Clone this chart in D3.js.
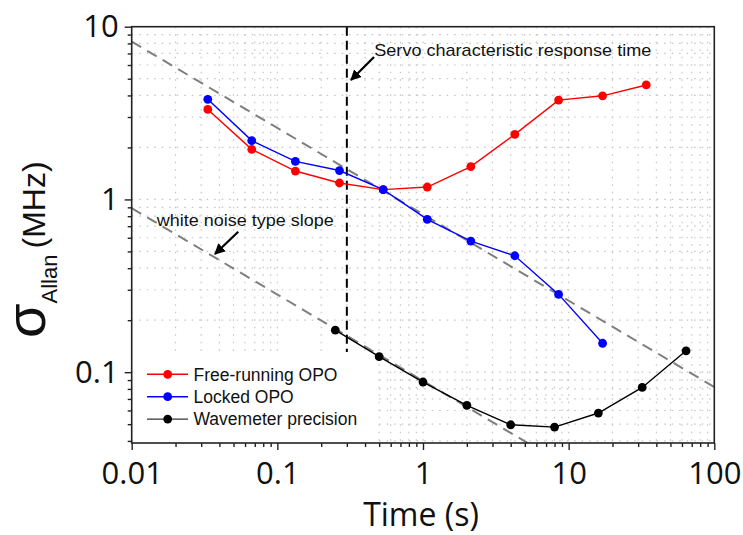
<!DOCTYPE html>
<html>
<head>
<meta charset="utf-8">
<script src="https://cdn.jsdelivr.net/npm/d3@7"></script>
<style>
  body { margin: 0; background: #fff; }
  svg { display: block; }
  .tick-label { font-family: "Open Sans", sans-serif; font-size: 31px; fill: #111; }
  .note { font-family: "Liberation Sans", Arial, sans-serif; font-size: 17px; fill: #111; }
  .legend-text { font-family: "Liberation Sans", Arial, sans-serif; font-size: 17.5px; fill: #111; }
</style>
</head>
<body>
<svg id="canvas" width="743" height="535"></svg>
<script>
// Data
const tauOPO      = [0.0333, 0.0667, 0.133, 0.267, 0.533, 1.07, 2.13, 4.27, 8.53, 17.1, 34.1];
const freeRunning = [3.32, 1.95, 1.46, 1.245, 1.14, 1.18, 1.55, 2.38, 3.76, 3.98, 4.60];
const tauLocked   = [0.0333, 0.0667, 0.133, 0.267, 0.533, 1.07, 2.13, 4.27, 8.53, 17.1];
const lockedOPO   = [3.80, 2.19, 1.66, 1.47, 1.14, 0.767, 0.574, 0.472, 0.282, 0.147];
const tauWave     = [0.25, 0.5, 1, 2, 4, 8, 16, 32, 64];
const wavemeter   = [0.175, 0.123, 0.0877, 0.0643, 0.0496, 0.0481, 0.058, 0.0816, 0.133];

// white-noise reference slopes (endpoints, tau / sigma)
const slopeUpper = [[0.01, 8.2], [100, 0.082]];
const slopeLower = [[0.01, 0.89], [100, 0.0089]];
const servoTime = 0.3;

const xTickLabels = ["0.01", "0.1", "1", "10", "100"];
const yTickLabels = ["0.1", "1", "10"];

const seriesNames = ["Free-running OPO", "Locked OPO", "Wavemeter precision"];
const seriesColors = ["#ff0000", "#0000ff", "#000000"];

const svg = d3.select("#canvas");
const plotLeft = 131.7, plotRight = 714.3, plotTop = 26.7, plotBottom = 443;

const x = d3.scaleLog().domain([0.01, 100]).range([plotLeft, plotRight]);
const y = d3.scaleLog().domain([0.0389, 10]).range([plotBottom, plotTop]);

const defs = svg.append("defs");
defs.append("clipPath").attr("id", "plotClip")
  .append("rect").attr("x", plotLeft).attr("y", plotTop)
  .attr("width", plotRight - plotLeft).attr("height", plotBottom - plotTop);

defs.append("marker")
  .attr("id", "arrowHead")
  .attr("viewBox", "0 0 10 10")
  .attr("refX", 9).attr("refY", 5)
  .attr("markerWidth", 5).attr("markerHeight", 5)
  .attr("orient", "auto")
  .append("path").attr("d", "M0,0 L10,5 L0,10 Z").attr("fill", "#000");

// --- grid (dotted, every tick) ---
const grid = svg.append("g").attr("clip-path", "url(#plotClip)");
grid.selectAll(".vgrid").data(x.ticks()).enter().append("line")
  .attr("x1", d => x(d)).attr("x2", d => x(d))
  .attr("y1", plotTop).attr("y2", plotBottom)
  .attr("stroke", "#c4c4c4").attr("stroke-width", 1.2).attr("stroke-dasharray", "1.5,6");
grid.selectAll(".hgrid").data(y.ticks()).enter().append("line")
  .attr("x1", plotLeft).attr("x2", plotRight)
  .attr("y1", d => y(d)).attr("y2", d => y(d))
  .attr("stroke", "#c4c4c4").attr("stroke-width", 1.2).attr("stroke-dasharray", "1.5,6");

// --- reference slopes ---
const line = d3.line().x(d => x(d[0])).y(d => y(d[1]));
const refs = svg.append("g").attr("clip-path", "url(#plotClip)");
[slopeUpper, slopeLower].forEach(s => {
  refs.append("path").attr("d", line(s))
    .attr("fill", "none").attr("stroke", "#7f7f7f")
    .attr("stroke-width", 2).attr("stroke-dasharray", "11,7");
});

// servo response time marker
refs.append("line")
  .attr("x1", x(servoTime)).attr("x2", x(servoTime))
  .attr("y1", plotTop).attr("y2", plotBottom)
  .attr("stroke", "#000").attr("stroke-width", 2).attr("stroke-dasharray", "9,5");

// --- annotations ---
svg.append("text").attr("class", "note")
  .attr("x", x(0.463)).attr("y", y(6.79))
  .attr("textLength", 277).attr("lengthAdjust", "spacingAndGlyphs")
  .text("Servo characteristic response time");
svg.append("line")
  .attr("x1", x(0.461)).attr("y1", y(6.67))
  .attr("x2", x(0.3204)).attr("y2", y(4.91))
  .attr("stroke", "#000").attr("stroke-width", 2.2)
  .attr("marker-end", "url(#arrowHead)");

svg.append("text").attr("class", "note")
  .attr("x", x(0.01485)).attr("y", y(0.704))
  .attr("textLength", 177).attr("lengthAdjust", "spacingAndGlyphs")
  .text("white noise type slope");
svg.append("line")
  .attr("x1", x(0.0539)).attr("y1", y(0.650))
  .attr("x2", x(0.0373)).attr("y2", y(0.483))
  .attr("stroke", "#000").attr("stroke-width", 2.2)
  .attr("marker-end", "url(#arrowHead)");

// legend background hides grid behind it
svg.append("rect").attr("x", plotLeft + 1).attr("y", 352)
  .attr("width", 377 - plotLeft - 1).attr("height", plotBottom - 353)
  .attr("fill", "#fff");

// --- data series ---
const series = [
  { tau: tauOPO, sigma: freeRunning },
  { tau: tauLocked, sigma: lockedOPO },
  { tau: tauWave, sigma: wavemeter }
];
series.forEach((s, i) => {
  const pts = s.tau.map((t, j) => [t, s.sigma[j]]);
  const g = svg.append("g");
  g.append("path").attr("d", line(pts))
    .attr("fill", "none").attr("stroke", seriesColors[i]).attr("stroke-width", 1.4);
  g.selectAll("circle").data(pts).enter().append("circle")
    .attr("cx", d => x(d[0])).attr("cy", d => y(d[1]))
    .attr("r", 4.4).attr("fill", seriesColors[i]);
});

// --- legend ---
const legend = svg.append("g");
seriesNames.forEach((name, i) => {
  const ly = 374.3 + i * 22.4;
  legend.append("line").attr("x1", 147).attr("x2", 188).attr("y1", ly).attr("y2", ly)
    .attr("stroke", i === 2 ? "#333" : seriesColors[i]).attr("stroke-width", 1.4);
  legend.append("circle").attr("cx", 167.7).attr("cy", ly).attr("r", 4.4)
    .attr("fill", seriesColors[i]);
  legend.append("text").attr("class", "legend-text")
    .attr("x", 193.5).attr("y", ly + 6.3)
    .text(name);
});

// --- axes ---
const axisColor = "#222";
const xMajor = [0.01, 0.1, 1, 10, 100];
const yMajor = [0.1, 1, 10];
const isMajor = (list, d) => list.some(m => Math.abs(m - d) / m < 1e-6);

const xAxisMinor = d3.axisBottom(x).tickValues(x.ticks().filter(d => !isMajor(xMajor, d)))
  .tickSize(4).tickFormat("");
const xAxisMajor = d3.axisBottom(x).tickValues(xMajor)
  .tickSize(7).tickFormat((d, i) => xTickLabels[i]);
const yAxisMinor = d3.axisLeft(y).tickValues(y.ticks().filter(d => !isMajor(yMajor, d)))
  .tickSize(4).tickFormat("");
const yAxisMajor = d3.axisLeft(y).tickValues(yMajor)
  .tickSize(7).tickFormat((d, i) => yTickLabels[i]);

function styleAxis(g) {
  g.attr("font-family", null).attr("font-size", null);
  g.select(".domain").remove();
  g.selectAll(".tick line").attr("stroke", axisColor).attr("stroke-width", 1.4);
  g.selectAll("text").attr("class", "tick-label").attr("fill", null);
}

svg.append("g").attr("transform", `translate(0,${plotBottom})`).call(xAxisMinor).call(styleAxis);
const gx = svg.append("g").attr("transform", `translate(0,${plotBottom})`).call(xAxisMajor).call(styleAxis);
gx.selectAll("text").attr("y", 41).attr("dy", 0);

svg.append("g").attr("transform", `translate(${plotLeft},0)`).call(yAxisMinor).call(styleAxis);
const gy = svg.append("g").attr("transform", `translate(${plotLeft},0)`).call(yAxisMajor).call(styleAxis);
gy.selectAll("text").attr("x", -13).attr("dy", "0.32em");

// frame
svg.append("rect").attr("x", plotLeft).attr("y", plotTop)
  .attr("width", plotRight - plotLeft).attr("height", plotBottom - plotTop)
  .attr("fill", "none").attr("stroke", axisColor).attr("stroke-width", 1.6);

// axis titles
svg.append("text")
  .attr("x", 421).attr("y", 526)
  .attr("text-anchor", "middle")
  .attr("font-family", "'Open Sans', sans-serif").attr("font-size", 32).attr("fill", "#111")
  .text("Time (s)");

const yTitle = svg.append("text")
  .attr("transform", "translate(45,338) rotate(-90)")
  .attr("font-family", "'Liberation Sans', Arial, sans-serif").attr("fill", "#111");
yTitle.append("tspan").attr("font-size", 56).text("σ");
yTitle.append("tspan").attr("font-size", 22).attr("dy", 12).text("Allan");
yTitle.append("tspan").attr("font-size", 32).attr("dy", -12).attr("dx", 6).text("(MHz)");
</script>
</body>
</html>
